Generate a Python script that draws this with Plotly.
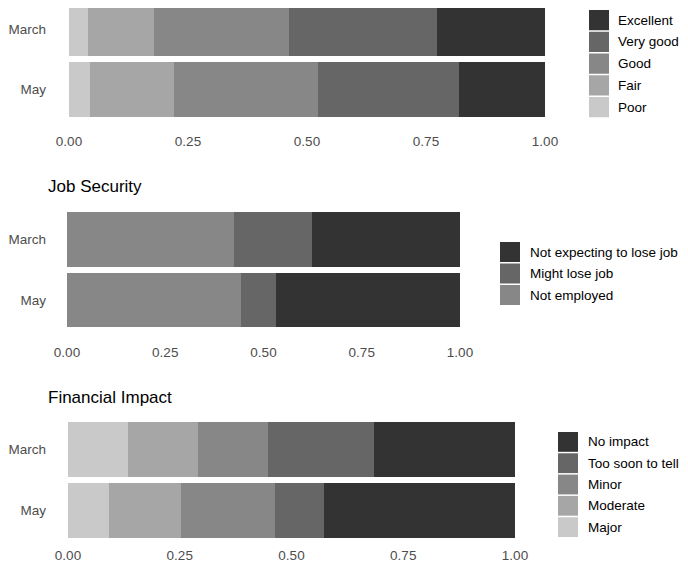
import plotly.graph_objects as go

# ---------------- data ----------------
months = ["March", "May"]

health_levels = ["Poor", "Fair", "Good", "Very good", "Excellent"]
health_poor = [0.040, 0.044]
health_fair = [0.138, 0.176]
health_good = [0.284, 0.304]
health_verygood = [0.312, 0.295]
health_excellent = [0.226, 0.181]

job_levels = ["Not employed", "Might lose job", "Not expecting to lose job"]
job_not_employed = [0.425, 0.443]
job_might_lose = [0.198, 0.090]
job_not_expecting = [0.377, 0.467]

fin_levels = ["Major", "Moderate", "Minor", "Too soon to tell", "No impact"]
fin_major = [0.135, 0.092]
fin_moderate = [0.156, 0.161]
fin_minor = [0.156, 0.210]
fin_too_soon = [0.238, 0.110]
fin_no_impact = [0.315, 0.427]

tick_vals = [0, 0.25, 0.5, 0.75, 1.0]
tick_text = ["0.00", "0.25", "0.50", "0.75", "1.00"]

panel_titles = ["", "Job Security", "Financial Impact"]

# ---------------- styling ----------------
PAGE_OFF = 8          # default page body margin
W, H = 688 - 2 * PAGE_OFF, 566 - PAGE_OFF
grey5 = ["#C9C9C9", "#A6A6A6", "#878787", "#666666", "#333333"]
grey3 = ["#878787", "#666666", "#333333"]
FONT = "Liberation Sans, Arial, sans-serif"
TICK_COL = "#4D4D4D"

def px_x(p):
    return (p - PAGE_OFF) / W

def px_y(p):
    return 1 - (p - PAGE_OFF) / H

panels = [
    dict(levels=health_levels,
         values=[health_poor, health_fair, health_good, health_verygood, health_excellent],
         colors=grey5, x_px=(69, 545), y_px=(8, 119.75), yrange=[1.5, -0.347],
         leg_key_x=589, leg_text_x=616, leg_top=10, leg_step=21.75, xstand=12,
         title_y=None),
    dict(levels=job_levels,
         values=[job_not_employed, job_might_lose, job_not_expecting],
         colors=grey3, x_px=(67, 460), y_px=(209.25, 330.25), yrange=[1.5, -0.5],
         leg_key_x=500, leg_text_x=528, leg_top=242, leg_step=21.5, xstand=12,
         title_y=187),
    dict(levels=fin_levels,
         values=[fin_major, fin_moderate, fin_minor, fin_too_soon, fin_no_impact],
         colors=grey5, x_px=(68, 515), y_px=(419, 541), yrange=[1.5, -0.5],
         leg_key_x=558, leg_text_x=586, leg_top=432, leg_step=21.3, xstand=4,
         title_y=397),
]

fig = go.Figure()
shapes = []
annotations = []

for i, p in enumerate(panels):
    sfx = "" if i == 0 else str(i + 1)
    for lvl, vals, col in zip(p["levels"], p["values"], p["colors"]):
        fig.add_trace(go.Bar(
            x=vals, y=months, orientation="h", name=lvl,
            marker=dict(color=col, line=dict(width=0)),
            xaxis="x" + sfx, yaxis="y" + sfx, showlegend=False,
            hovertemplate=lvl + ": %{x:.3f}<extra></extra>",
        ))
    fig.update_layout(**{
        "xaxis" + sfx: dict(
            domain=[px_x(p["x_px"][0]), px_x(p["x_px"][1])],
            range=[0, 1], anchor="y" + sfx, automargin=False,
            showgrid=False, zeroline=False, showline=False, ticks="",
            tickvals=tick_vals, ticktext=tick_text,
            tickfont=dict(family=FONT, size=13.5, color=TICK_COL),
            ticklabelstandoff=p["xstand"], fixedrange=True,
        ),
        "yaxis" + sfx: dict(
            domain=[px_y(p["y_px"][1]), px_y(p["y_px"][0])],
            type="category", categoryorder="array", categoryarray=months,
            range=p["yrange"], anchor="x" + sfx, automargin=False,
            showgrid=False, zeroline=False, showline=False, ticks="",
            tickfont=dict(family=FONT, size=13.5, color=TICK_COL),
            ticklabelstandoff=p["x_px"][0] - 47, fixedrange=True,
        ),
    })
    # legend (darkest level on top)
    items = list(zip(p["levels"], p["colors"]))[::-1]
    for k, (lvl, col) in enumerate(items):
        top = p["leg_top"] + k * p["leg_step"]
        shapes.append(dict(
            type="rect", xref="paper", yref="paper",
            x0=px_x(p["leg_key_x"]), x1=px_x(p["leg_key_x"] + 20),
            y0=px_y(top + p["leg_step"] - 1.5), y1=px_y(top),
            fillcolor=col, line=dict(width=0),
        ))
        annotations.append(dict(
            x=px_x(p["leg_text_x"]), y=px_y(top + (p["leg_step"] - 1.5) / 2),
            xref="paper", yref="paper", xanchor="left", yanchor="middle",
            text=lvl, showarrow=False,
            font=dict(family=FONT, size=13.5, color="#000000"),
        ))
    if p["title_y"] is not None:
        annotations.append(dict(
            x=px_x(46), y=px_y(p["title_y"]), xref="paper", yref="paper",
            xanchor="left", yanchor="middle", text=panel_titles[i],
            showarrow=False, font=dict(family=FONT, size=17, color="#000000"),
        ))

fig.update_layout(
    width=W, height=H, barmode="stack", bargap=0.1,
    margin=dict(l=0, r=0, t=0, b=0, autoexpand=False),
    paper_bgcolor="white", plot_bgcolor="white",
    shapes=shapes, annotations=annotations, showlegend=False,
)

fig.write_html("out.html")
